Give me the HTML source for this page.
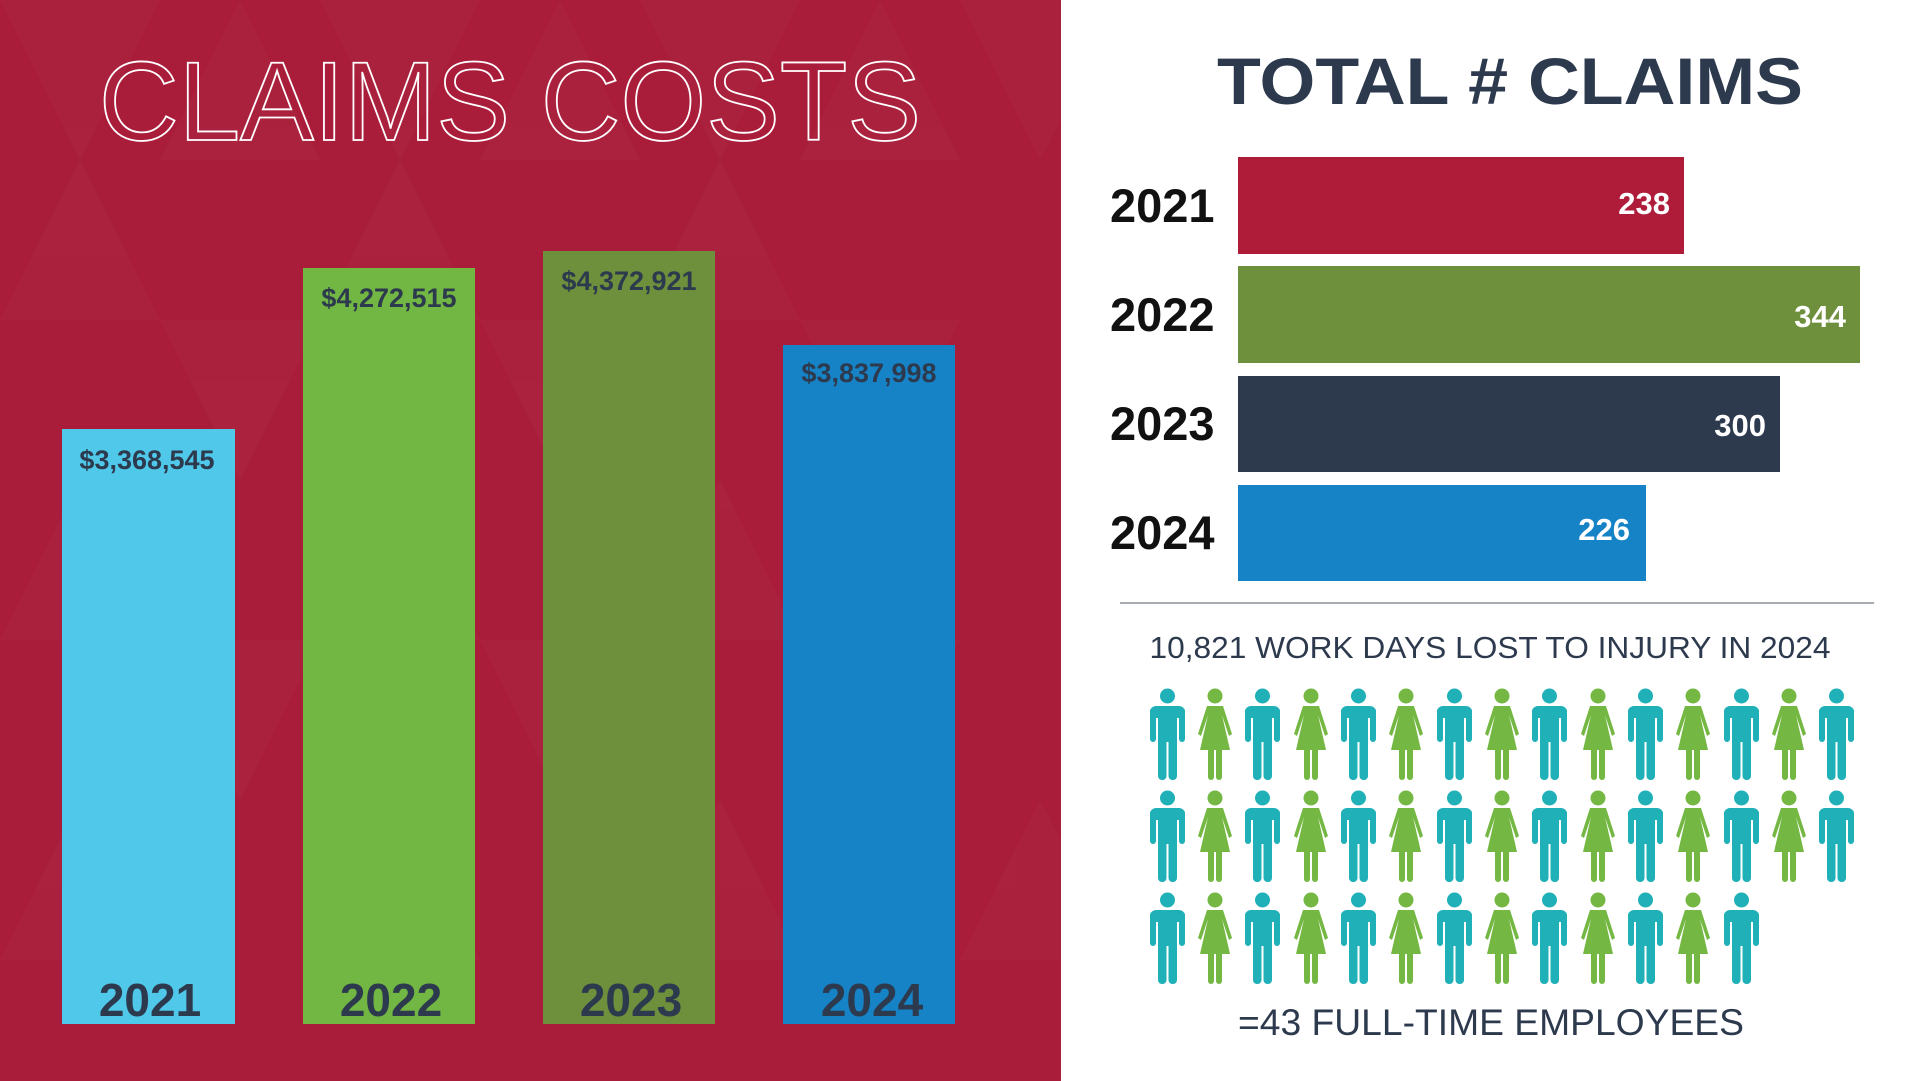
<!DOCTYPE html>
<html><head><meta charset="utf-8"><style>
html,body{margin:0;padding:0;width:1921px;height:1081px;overflow:hidden;background:#fff;font-family:"Liberation Sans",sans-serif}
</style></head><body>
<svg width="1921" height="1081" viewBox="0 0 1921 1081" xmlns="http://www.w3.org/2000/svg" style="position:absolute;left:0;top:0">
<defs>
<symbol id="man" viewBox="0 0 35 92">
<circle cx="17.5" cy="8" r="7.5"/>
<rect x="0" y="18" width="35" height="12" rx="6"/>
<rect x="0" y="20" width="6" height="34" rx="3"/>
<rect x="29" y="20" width="6" height="34" rx="3"/>
<rect x="8" y="18" width="19" height="36"/>
<rect x="8" y="48" width="8.5" height="44" rx="4"/>
<rect x="18.5" y="48" width="8.5" height="44" rx="4"/>
</symbol>
<symbol id="woman" viewBox="0 0 38 92">
<circle cx="19" cy="8" r="7.5"/>
<path d="M11 18 H27 L36 46 L33 48 L26 27 L34 62 H4 L12 27 L5 48 L2 46 Z"/>
<rect x="12" y="58" width="6" height="34" rx="3"/>
<rect x="20" y="58" width="6" height="34" rx="3"/>
</symbol>
</defs>
<rect x="0" y="0" width="1061" height="1081" fill="#a91d3a"/>
<g fill="#ffffff" opacity="0.02">
<path d="M0 0 L80 160 L160 0Z M160 160 L240 0 L320 160Z M320 0 L400 160 L480 0Z M480 160 L560 0 L640 160Z M640 0 L720 160 L800 0Z M800 160 L880 0 L960 160Z M960 0 L1040 160 L1061 120 L1061 0Z"/>
<path d="M0 320 L80 160 L160 320Z M160 320 L240 480 L320 320Z M320 320 L400 160 L480 320Z M480 320 L560 480 L640 320Z M640 320 L720 160 L800 320Z M800 320 L880 480 L960 320Z"/>
<path d="M0 640 L80 480 L160 640Z M160 640 L240 800 L320 640Z M320 640 L400 480 L480 640Z M480 640 L560 800 L640 640Z M640 640 L720 480 L800 640Z M800 640 L880 800 L960 640Z"/>
<path d="M0 960 L80 800 L160 960Z M320 960 L400 800 L480 960Z M640 960 L720 800 L800 960Z M960 960 L1040 800 L1061 840 L1061 960Z"/>
</g>
<text x="510" y="140" text-anchor="middle" font-family="Liberation Sans" font-size="112" fill="none" stroke="#fff" stroke-width="1.8" textLength="822" lengthAdjust="spacingAndGlyphs">CLAIMS COSTS</text>
<rect x="62" y="429" width="173" height="595" fill="#4fc8ea"/>
<rect x="303" y="268" width="172" height="756" fill="#72b743"/>
<rect x="543" y="251" width="172" height="773" fill="#6e8f3c"/>
<rect x="783" y="345" width="172" height="679" fill="#1783c7"/>
<g font-weight="bold" font-size="27" fill="#2d3a4e" text-anchor="middle">
<text x="147" y="469">$3,368,545</text>
<text x="389" y="307">$4,272,515</text>
<text x="629" y="290">$4,372,921</text>
<text x="869" y="382">$3,837,998</text>
</g>
<g font-weight="bold" font-size="46" fill="#2d3a4e" text-anchor="middle">
<text x="150" y="1016">2021</text>
<text x="391" y="1016">2022</text>
<text x="631" y="1016">2023</text>
<text x="872" y="1016">2024</text>
</g>
<text x="1510" y="104" text-anchor="middle" font-weight="bold" font-size="66" fill="#2d3a4e" textLength="586" lengthAdjust="spacingAndGlyphs">TOTAL # CLAIMS</text>
<rect x="1238" y="157" width="446" height="97" fill="#ae1c3a"/>
<rect x="1238" y="266" width="622" height="97" fill="#6e8f3c"/>
<rect x="1238" y="376" width="542" height="96" fill="#2d3a4e"/>
<rect x="1238" y="485" width="408" height="96" fill="#1783c7"/>
<g font-weight="bold" font-size="47" fill="#111">
<text x="1110" y="222">2021</text>
<text x="1110" y="331">2022</text>
<text x="1110" y="440">2023</text>
<text x="1110" y="549">2024</text>
</g>
<g font-weight="bold" font-size="31" fill="#fff" text-anchor="end">
<text x="1670" y="214">238</text>
<text x="1846" y="327">344</text>
<text x="1766" y="436">300</text>
<text x="1630" y="540">226</text>
</g>
<line x1="1120" y1="603" x2="1874" y2="603" stroke="#8a8f98" stroke-width="1.5"/>
<text x="1490" y="658" text-anchor="middle" font-size="31" fill="#2d3a4e" textLength="681" lengthAdjust="spacingAndGlyphs">10,821 WORK DAYS LOST TO INJURY IN 2024</text>
<g id="rows">
<g fill="#1fb0b8">
<use href="#man" x="1150" y="688" width="35" height="92"/><use href="#man" x="1245" y="688" width="35" height="92"/><use href="#man" x="1341" y="688" width="35" height="92"/><use href="#man" x="1437" y="688" width="35" height="92"/><use href="#man" x="1532" y="688" width="35" height="92"/><use href="#man" x="1628" y="688" width="35" height="92"/><use href="#man" x="1724" y="688" width="35" height="92"/><use href="#man" x="1819" y="688" width="35" height="92"/>
<use href="#man" x="1150" y="790" width="35" height="92"/><use href="#man" x="1245" y="790" width="35" height="92"/><use href="#man" x="1341" y="790" width="35" height="92"/><use href="#man" x="1437" y="790" width="35" height="92"/><use href="#man" x="1532" y="790" width="35" height="92"/><use href="#man" x="1628" y="790" width="35" height="92"/><use href="#man" x="1724" y="790" width="35" height="92"/><use href="#man" x="1819" y="790" width="35" height="92"/>
<use href="#man" x="1150" y="892" width="35" height="92"/><use href="#man" x="1245" y="892" width="35" height="92"/><use href="#man" x="1341" y="892" width="35" height="92"/><use href="#man" x="1437" y="892" width="35" height="92"/><use href="#man" x="1532" y="892" width="35" height="92"/><use href="#man" x="1628" y="892" width="35" height="92"/><use href="#man" x="1724" y="892" width="35" height="92"/>
</g>
<g fill="#74b843">
<use href="#woman" x="1196" y="688" width="38" height="92"/><use href="#woman" x="1292" y="688" width="38" height="92"/><use href="#woman" x="1387" y="688" width="38" height="92"/><use href="#woman" x="1483" y="688" width="38" height="92"/><use href="#woman" x="1579" y="688" width="38" height="92"/><use href="#woman" x="1674" y="688" width="38" height="92"/><use href="#woman" x="1770" y="688" width="38" height="92"/>
<use href="#woman" x="1196" y="790" width="38" height="92"/><use href="#woman" x="1292" y="790" width="38" height="92"/><use href="#woman" x="1387" y="790" width="38" height="92"/><use href="#woman" x="1483" y="790" width="38" height="92"/><use href="#woman" x="1579" y="790" width="38" height="92"/><use href="#woman" x="1674" y="790" width="38" height="92"/><use href="#woman" x="1770" y="790" width="38" height="92"/>
<use href="#woman" x="1196" y="892" width="38" height="92"/><use href="#woman" x="1292" y="892" width="38" height="92"/><use href="#woman" x="1387" y="892" width="38" height="92"/><use href="#woman" x="1483" y="892" width="38" height="92"/><use href="#woman" x="1579" y="892" width="38" height="92"/><use href="#woman" x="1674" y="892" width="38" height="92"/>
</g>
</g>
<text x="1491" y="1035" text-anchor="middle" font-size="37" fill="#2d3a4e" textLength="506" lengthAdjust="spacingAndGlyphs">=43 FULL-TIME EMPLOYEES</text>
</svg>
</body></html>
